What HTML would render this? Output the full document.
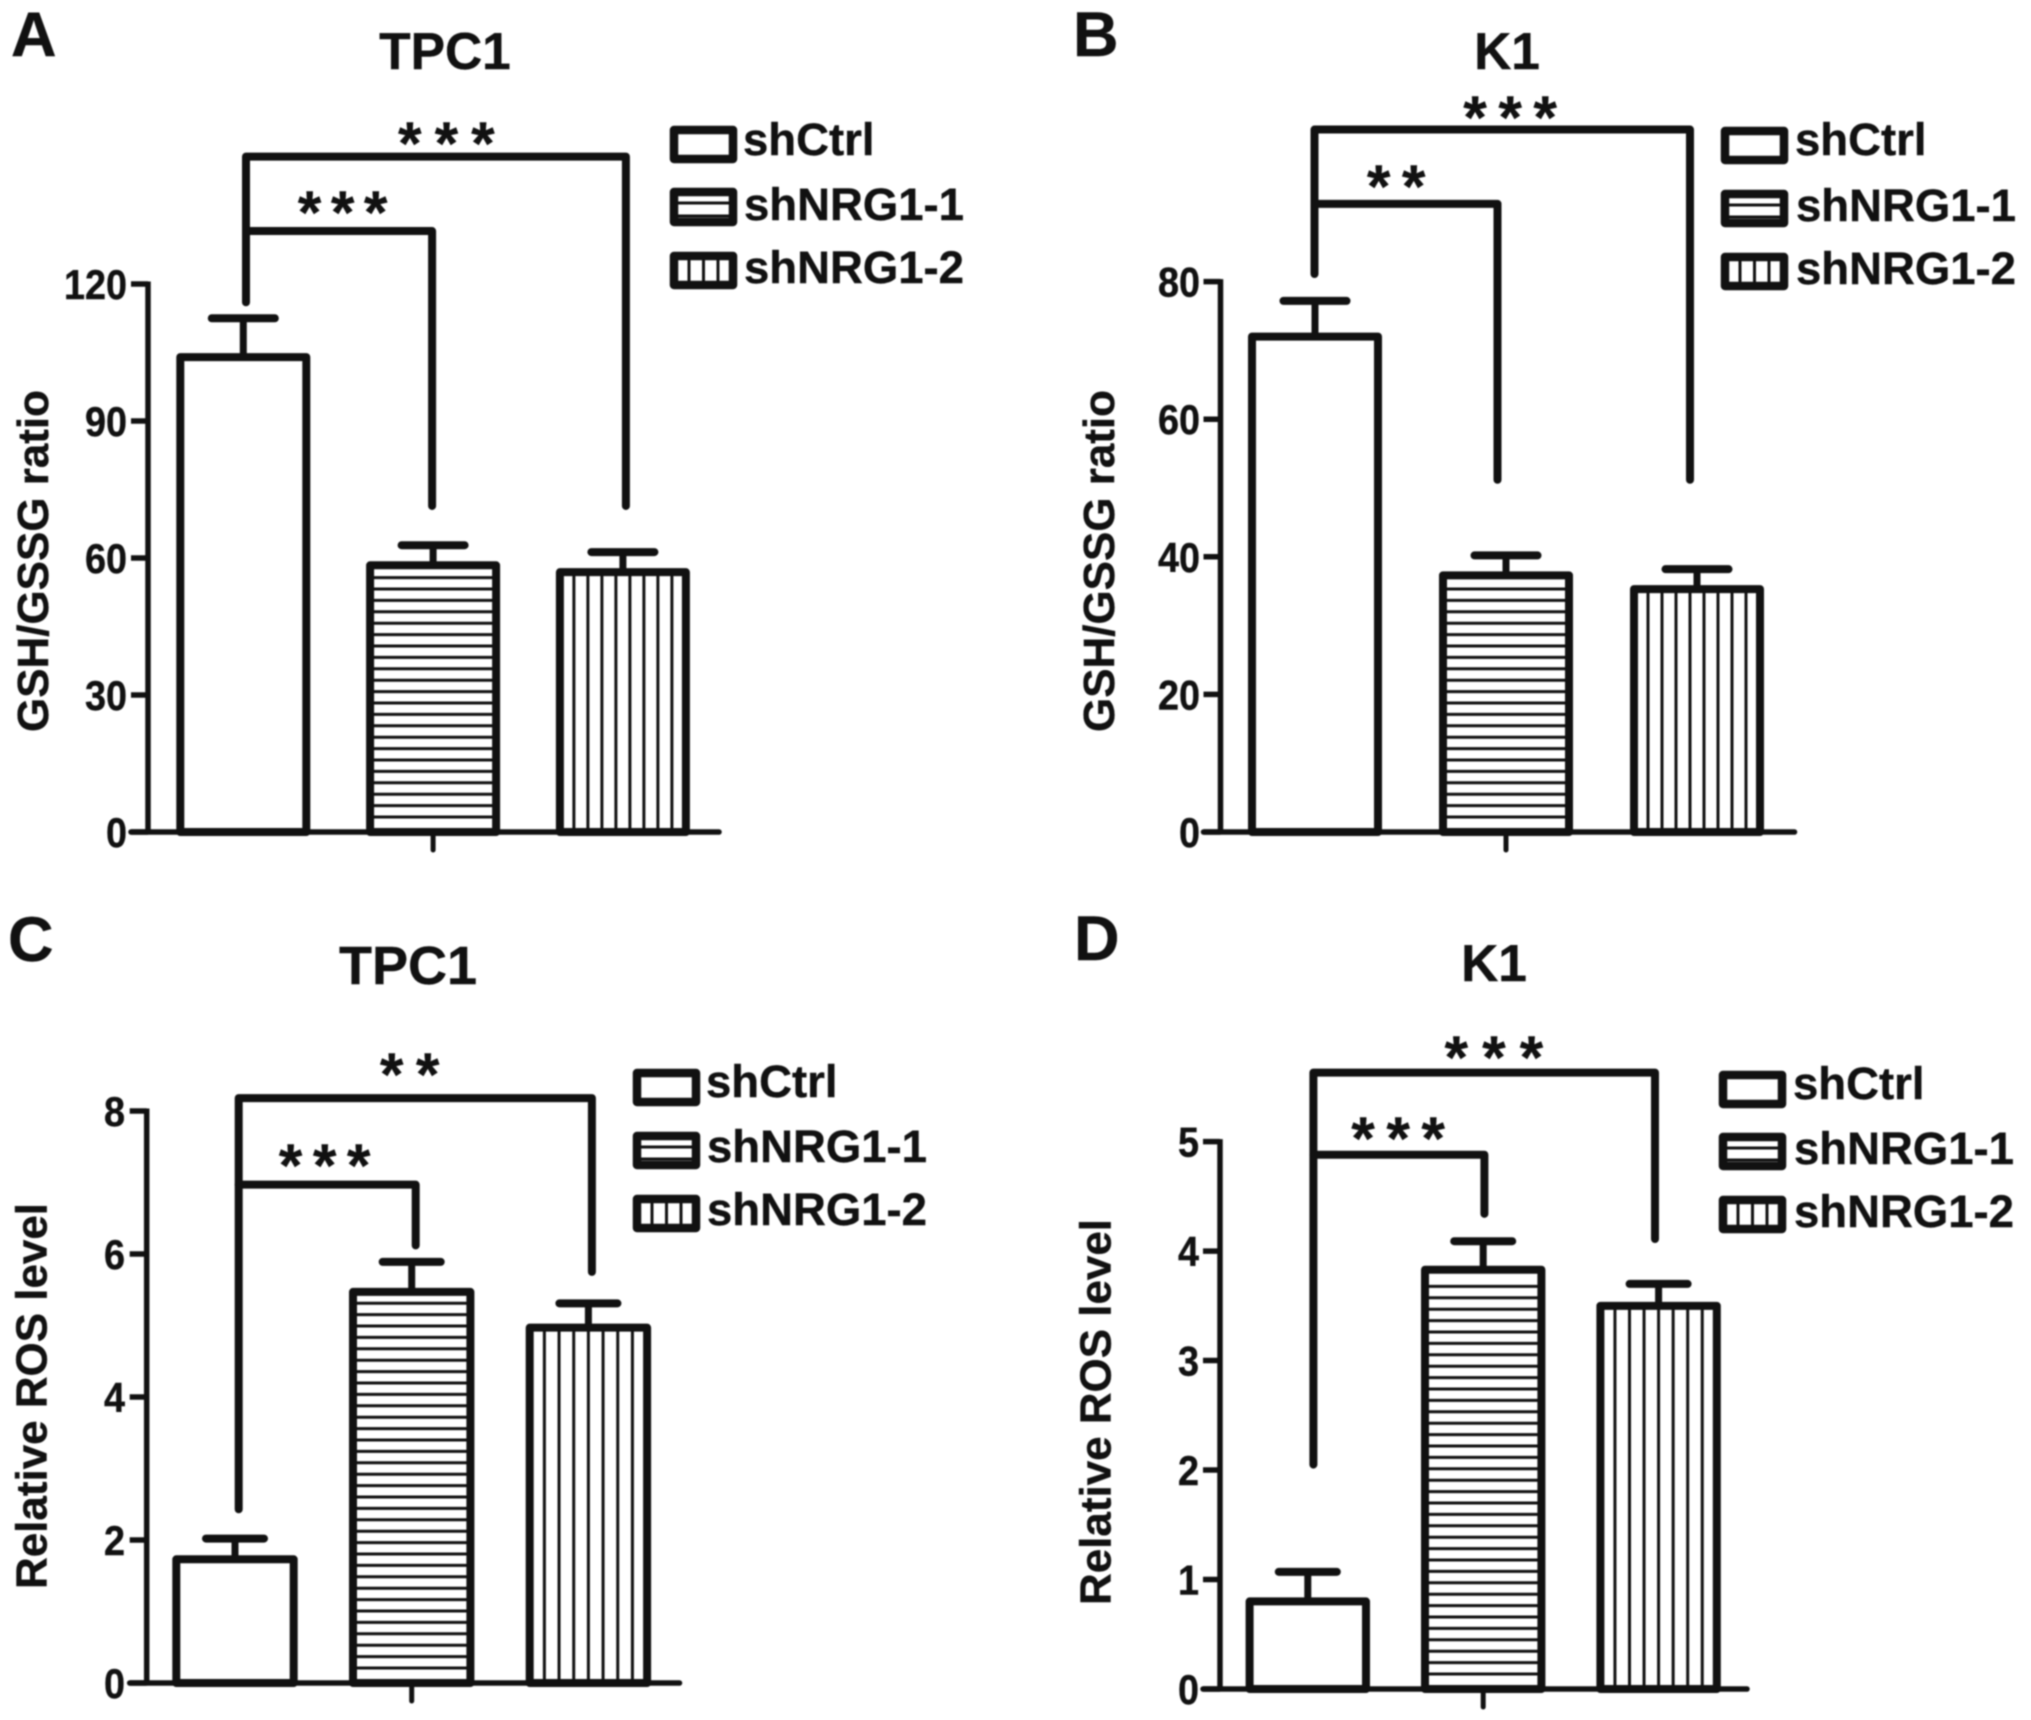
<!DOCTYPE html>
<html lang="en">
<head>
<meta charset="utf-8">
<title>GSH/GSSG ratio and ROS level in TPC1 and K1 cells</title>
<style>
html,body{margin:0;padding:0;background:#fff;width:2031px;height:1720px;overflow:hidden}
svg{display:block;filter:blur(.7px)}
text{font-family:"Liberation Sans",Arial,sans-serif;font-weight:700;fill:#111;stroke:#111;stroke-width:.4px}
.letter{font-size:63px}
.title{font-size:51.5px;text-anchor:middle}
.ytitle{font-size:44px;text-anchor:middle}
.legend{font-size:45.5px}
.stars{font-size:60px;text-anchor:middle}
.sw{fill:#fff;stroke:#111;stroke-width:8.5;stroke-linejoin:round}
.ht{stroke:#111;stroke-width:3}
</style>
</head>
<body>
<svg id="figure" xmlns="http://www.w3.org/2000/svg" width="2031" height="1720" viewBox="0 0 2031 1720">
  <rect width="2031" height="1720" fill="#fff"/>

  <text class="letter" x="11" y="56">A</text>
  <text class="letter" x="1073" y="56">B</text>
  <text class="letter" x="8" y="961">C</text>
  <text class="letter" x="1074" y="960">D</text>

  <text class="title" x="445" y="69">TPC1</text>
  <text class="title" x="1507" y="69">K1</text>
  <text class="title" x="408" y="984" style="font-size:54px">TPC1</text>
  <text class="title" x="1494" y="981">K1</text>

  <text class="ytitle" transform="translate(48,561) rotate(-90)" textLength="342" lengthAdjust="spacingAndGlyphs">GSH/GSSG ratio</text>
  <text class="ytitle" transform="translate(1114,561) rotate(-90)" textLength="342" lengthAdjust="spacingAndGlyphs">GSH/GSSG ratio</text>
  <text class="ytitle" transform="translate(46.5,1396) rotate(-90)" textLength="386" lengthAdjust="spacingAndGlyphs">Relative ROS level</text>
  <text class="ytitle" transform="translate(1110.5,1412) rotate(-90)" textLength="386" lengthAdjust="spacingAndGlyphs">Relative ROS level</text>

  <text class="stars" x="453" y="164" style="letter-spacing:13.2px">***</text>
  <text class="stars" x="347.5" y="233" style="letter-spacing:9.7px">***</text>
  <text class="stars" x="1516" y="138" style="letter-spacing:11.7px">***</text>
  <text class="stars" x="1402" y="207" style="letter-spacing:11.7px">**</text>
  <text class="stars" x="416" y="1095" style="letter-spacing:12.7px">**</text>
  <text class="stars" x="330" y="1186" style="letter-spacing:10.7px">***</text>
  <text class="stars" x="1501" y="1078" style="letter-spacing:14.2px">***</text>
  <text class="stars" x="1404" y="1159" style="letter-spacing:11.7px">***</text>

  <!-- Legend A -->
  <g>
    <g><rect class="sw" x="674" y="130" width="59" height="29"/><text class="legend" x="743" y="155">shCtrl</text></g>
    <g><rect class="sw" x="674" y="192" width="59" height="30"/><path class="ht" d="M674 203H733M674 216H733"/><text class="legend" x="744" y="220">shNRG1-1</text></g>
    <g><rect class="sw" x="674" y="256" width="59" height="29"/><path class="ht" d="M689 256V285M703.5 256V285M718 256V285"/><text class="legend" x="744" y="283">shNRG1-2</text></g>
  </g>
  <!-- Legend B -->
  <g>
    <g><rect class="sw" x="1725" y="131" width="59" height="29"/><text class="legend" x="1795" y="155">shCtrl</text></g>
    <g><rect class="sw" x="1725" y="194" width="59" height="29"/><path class="ht" d="M1725 205H1784M1725 217H1784"/><text class="legend" x="1796" y="221">shNRG1-1</text></g>
    <g><rect class="sw" x="1725" y="257" width="59" height="29"/><path class="ht" d="M1740 257V286M1754.5 257V286M1769 257V286"/><text class="legend" x="1796" y="284">shNRG1-2</text></g>
  </g>
  <!-- Legend C -->
  <g>
    <g><rect class="sw" x="637" y="1073" width="59" height="29"/><text class="legend" x="706" y="1097">shCtrl</text></g>
    <g><rect class="sw" x="637" y="1136" width="59" height="29"/><path class="ht" d="M637 1147H696M637 1159H696"/><text class="legend" x="707" y="1162">shNRG1-1</text></g>
    <g><rect class="sw" x="637" y="1199" width="59" height="29"/><path class="ht" d="M652 1199V1228M666.5 1199V1228M681 1199V1228"/><text class="legend" x="707" y="1225">shNRG1-2</text></g>
  </g>
  <!-- Legend D -->
  <g>
    <g><rect class="sw" x="1723" y="1075" width="59" height="29"/><text class="legend" x="1793" y="1099">shCtrl</text></g>
    <g><rect class="sw" x="1723" y="1137" width="59" height="29"/><path class="ht" d="M1723 1148H1782M1723 1160H1782"/><text class="legend" x="1794" y="1164">shNRG1-1</text></g>
    <g><rect class="sw" x="1723" y="1200" width="59" height="29"/><path class="ht" d="M1738 1200V1229M1752.5 1200V1229M1767 1200V1229"/><text class="legend" x="1794" y="1227">shNRG1-2</text></g>
  </g>
</svg>

<script>
// Chart data
const categories = ['shCtrl', 'shNRG1-1', 'shNRG1-2'];

const gshTicksTpc1 = [0, 30, 60, 90, 120];
const gshValuesTpc1 = [104, 58.4, 56.9];
const gshErrorsTpc1 = [8.5, 4.4, 4.4];
const gshBracketLevelsTpc1 = [147.9, 131.6];
const gshBracketDropsTpc1 = [116, 71.4, 71.4];

const gshTicksK1 = [0, 20, 40, 60, 80];
const gshValuesK1 = [72, 37.3, 35.3];
const gshErrorsK1 = [5.2, 2.9, 2.9];
const gshBracketLevelsK1 = [102.1, 91.3];
const gshBracketDropsK1 = [81.1, 51.2, 51.2];

const rosTicksTpc1 = [0, 2, 4, 6, 8];
const rosValuesTpc1 = [1.73, 5.47, 4.97];
const rosErrorsTpc1 = [0.29, 0.42, 0.34];
const rosBracketLevelsTpc1 = [8.18, 6.97];
const rosBracketDropsTpc1 = [2.43, 6.12, 5.75];

const rosTicksK1 = [0, 1, 2, 3, 4, 5];
const rosValuesK1 = [0.80, 3.83, 3.5];
const rosErrorsK1 = [0.27, 0.26, 0.2];
const rosBracketLevelsK1 = [5.63, 4.88];
const rosBracketDropsK1 = [2.05, 4.34, 4.11];

const INK = '#111';
const SVG_NS = 'http://www.w3.org/2000/svg';
const figure = document.getElementById('figure');

function make(parent, tag, attrs) {
  const el = document.createElementNS(SVG_NS, tag);
  for (const key in attrs) el.setAttribute(key, attrs[key]);
  parent.appendChild(el);
  return el;
}

function drawPanel(id, geometry, ticks, values, errors, levels, drops) {
  const yMax = ticks[ticks.length - 1];
  const yScale = function (v) {
    return geometry.y0 - (v / yMax) * (geometry.y0 - geometry.yTop);
  };
  const xScale = function (i) {
    return geometry.x0 + i * geometry.step;
  };

  const group = make(figure, 'g', {});
  
  

  // error bars sit behind the bars
  values.forEach(function (value, i) {
    const cx = xScale(i);
    const stem = make(group, 'line', { x1: cx, x2: cx, y1: yScale(value), y2: yScale(value + errors[i]), stroke: INK, 'stroke-width': 7 });
    
    
    const cap = make(group, 'line', { x1: cx - geometry.capHalf, x2: cx + geometry.capHalf, y1: yScale(value + errors[i]), y2: yScale(value + errors[i]), stroke: INK, 'stroke-width': 8, 'stroke-linecap': 'round' });
    
    
  });

  // bars with hatch
  values.forEach(function (value, i) {
    const cx = xScale(i);
    const left = cx - geometry.half;
    const right = cx + geometry.half;
    const top = yScale(value);
    const bar = make(group, 'rect', { x: left, y: top, width: right - left, height: geometry.y0 - top, fill: '#fff', stroke: INK, 'stroke-width': 8, 'stroke-linejoin': 'round' });
    
    

    if (i === 1) {
      for (let y = geometry.y0 - 15; y > top + 6; y -= 11.4) {
        const hatch = make(group, 'line', { x1: left, x2: right, y1: y, y2: y, stroke: INK, 'stroke-width': 3 });
        
        
      }
    }
    if (i === 2) {
      const gap = (right - left) / geometry.hatchGaps;
      for (let k = 1; k < geometry.hatchGaps; k++) {
        const x = left + k * gap;
        const hatch = make(group, 'line', { x1: x, x2: x, y1: top, y2: geometry.y0, stroke: INK, 'stroke-width': 3 });
        
        
      }
    }
  });

  // axes
  const yAxis = make(group, 'line', { x1: geometry.axisX, x2: geometry.axisX, y1: yScale(yMax) - 2.5, y2: geometry.y0 + 2.5, stroke: INK, 'stroke-width': 5.5 });
  
  
  const xAxis = make(group, 'line', { x1: geometry.axisX - 17, x2: geometry.axisEnd, y1: geometry.y0, y2: geometry.y0, stroke: INK, 'stroke-width': 5.5, 'stroke-linecap': 'round' });
  
  
  const xTick = make(group, 'line', { x1: xScale(1), x2: xScale(1), y1: geometry.y0, y2: geometry.y0 + 18, stroke: INK, 'stroke-width': 5, 'stroke-linecap': 'round' });
  
  

  ticks.forEach(function (t) {
    const y = yScale(t);
    const tick = make(group, 'line', { x1: geometry.axisX - 17, x2: geometry.axisX, y1: y, y2: y, stroke: INK, 'stroke-width': 5.5 });
    
    
    const label = make(group, 'text', { transform: 'translate(' + geometry.labelX + ',' + (y + 15) + ') scale(.9,1)', 'text-anchor': 'end', 'font-size': 42 });
    label.textContent = String(t);
    
    
  });

  // significance brackets
  const leftX = xScale(0) + geometry.bracketOffsets[0];
  const innerX = xScale(1) + geometry.bracketOffsets[1];
  const rightX = xScale(2) + geometry.bracketOffsets[2];
  const outer = make(group, 'path', {
    d: 'M' + leftX + ' ' + yScale(drops[0]) + 'V' + yScale(levels[0]) + 'H' + rightX + 'V' + yScale(drops[2]),
    fill: 'none', stroke: INK, 'stroke-width': 8, 'stroke-linejoin': 'round', 'stroke-linecap': 'round'
  });
  
  
  const inner = make(group, 'path', {
    d: 'M' + leftX + ' ' + yScale(levels[1]) + 'H' + innerX + 'V' + yScale(drops[1]),
    fill: 'none', stroke: INK, 'stroke-width': 8, 'stroke-linejoin': 'round', 'stroke-linecap': 'round'
  });
  
  
}

drawPanel('a', { axisX: 148, axisEnd: 719, y0: 832, yTop: 284, x0: 243.3, step: 189.8, half: 63, capHalf: 31.5, hatchGaps: 9, labelX: 127, bracketOffsets: [2.7, -1, 3] },
  gshTicksTpc1, gshValuesTpc1, gshErrorsTpc1, gshBracketLevelsTpc1, gshBracketDropsTpc1);
drawPanel('b', { axisX: 1220.5, axisEnd: 1794.5, y0: 832, yTop: 281.6, x0: 1315, step: 191, half: 63, capHalf: 31.5, hatchGaps: 9, labelX: 1200, bracketOffsets: [-0.5, -8.5, -7] },
  gshTicksK1, gshValuesK1, gshErrorsK1, gshBracketLevelsK1, gshBracketDropsK1);
drawPanel('c', { axisX: 146.7, axisEnd: 679.5, y0: 1683, yTop: 1111, x0: 235, step: 176.7, half: 58.7, capHalf: 29, hatchGaps: 8, labelX: 125, bracketOffsets: [3.7, 4, 3.5] },
  rosTicksTpc1, rosValuesTpc1, rosErrorsTpc1, rosBracketLevelsTpc1, rosBracketDropsTpc1);
drawPanel('d', { axisX: 1220, axisEnd: 1747, y0: 1689, yTop: 1141.6, x0: 1307.8, step: 175.4, half: 58.2, capHalf: 29, hatchGaps: 8, labelX: 1199, bracketOffsets: [5.6, 1.2, -3.6] },
  rosTicksK1, rosValuesK1, rosErrorsK1, rosBracketLevelsK1, rosBracketDropsK1);
</script>
</body>
</html>
